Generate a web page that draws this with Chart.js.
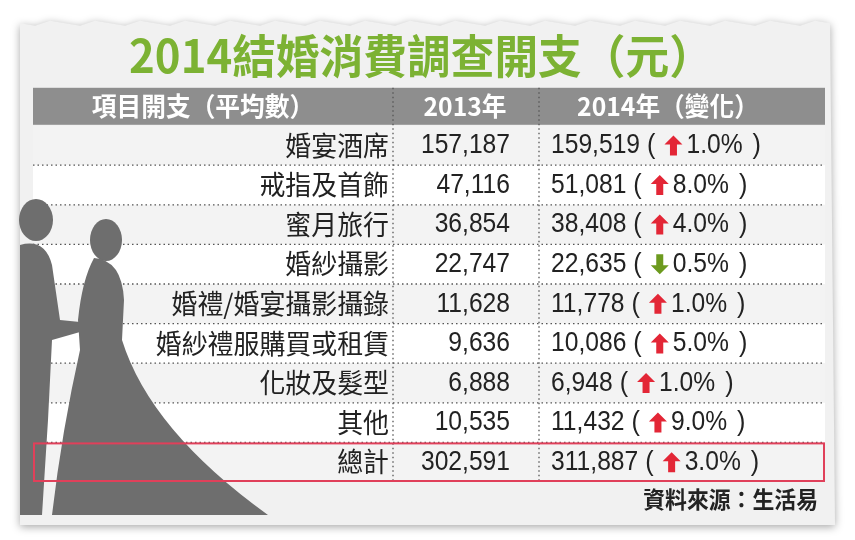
<!DOCTYPE html>
<html><head><meta charset="utf-8">
<script src="https://cdn.jsdelivr.net/npm/chart.js@4"></script>
<style>html,body{margin:0;background:#fff}#wrap{width:855px;height:540px}</style>
</head><body><div id="wrap"><canvas id="c"></canvas></div>
<script>
const title = "2014結婚消費調查開支（元）";
const headers = ["項目開支（平均數）", "2013年", "2014年（變化）"];
const categories = ["婚宴酒席","戒指及首飾","蜜月旅行","婚紗攝影","婚禮/婚宴攝影攝錄","婚紗禮服購買或租賃","化妝及髮型","其他","總計"];
const v2013 = [157187,47116,36854,22747,11628,9636,6888,10535,302591];
const v2014 = [159519,51081,38408,22635,11778,10086,6948,11432,311887];
const change = [1.0,8.0,4.0,-0.5,1.0,5.0,1.0,9.0,3.0];
const source = "資料來源：生活易";

const rows = ["header", ...categories];
const NUM = '"Liberation Sans",sans-serif';
const CJK = '"Noto Sans CJK TC",sans-serif';
const fmt = n => n.toLocaleString("en-US");

// draw horizontally squeezed text, returns drawn width
function txt(ctx, s, x, y, align, sx) {
  const w = ctx.measureText(s).width * sx;
  const left = align === "right" ? x - w : align === "center" ? x - w/2 : x;
  ctx.save(); ctx.textAlign = "left"; ctx.translate(left, y); ctx.scale(sx, 1);
  ctx.fillText(s, 0, 0); ctx.restore();
  return w;
}

function arrow(ctx, x, y, up, col) {
  ctx.save(); ctx.fillStyle = col; ctx.beginPath();
  const d = up ? -1 : 1;
  ctx.moveTo(x, y + d*10); ctx.lineTo(x+9, y + d*1); ctx.lineTo(x+3.5, y + d*1);
  ctx.lineTo(x+3.5, y - d*10); ctx.lineTo(x-3.5, y - d*10); ctx.lineTo(x-3.5, y + d*1);
  ctx.lineTo(x-9, y + d*1); ctx.closePath(); ctx.fill(); ctx.restore();
}

const tablePlugin = {
  id: "table",
  beforeDraw(chart) {
    const ctx = chart.ctx, ys = chart.scales.y;
    const step = Math.abs(ys.getPixelForValue(1) - ys.getPixelForValue(0));
    ctx.save();
    ctx.shadowColor = "rgba(0,0,0,0.35)"; ctx.shadowBlur = 8; ctx.shadowOffsetY = 2;
    ctx.fillStyle = "#f1f1f1";
    ctx.beginPath(); ctx.moveTo(20, 24);
    for (let x = 20; x <= 835; x += 15) ctx.lineTo(x, 20 + ((x/15)%3)*2.5);
    ctx.lineTo(835, 525); ctx.lineTo(20, 525); ctx.closePath(); ctx.fill();
    ctx.restore();
    ctx.save();
    rows.forEach((r, i) => {
      const yc = ys.getPixelForValue(i);
      if (i === 0) { ctx.fillStyle = "#8e8e8e"; ctx.fillRect(33, yc - 18, 792, 37); }
      else { ctx.fillStyle = i % 2 ? "#f3f3f3" : "#ffffff"; ctx.fillRect(33, yc - step/2, 792, step); }
    });
    ctx.restore();
  },
  afterDraw(chart) {
    const ctx = chart.ctx, ys = chart.scales.y;
    const step = Math.abs(ys.getPixelForValue(1) - ys.getPixelForValue(0));
    ctx.save();
    ctx.textBaseline = "middle";
    // title
    ctx.fillStyle = "#7cb233"; ctx.font = "bold 46px " + CJK;
    txt(ctx, title, 421, 56, "center", 0.95);
    // dotted lines
    ctx.strokeStyle = "#555"; ctx.lineWidth = 1.3; ctx.setLineDash([1.5, 3]);
    for (let i = 1; i < rows.length - 1; i++) {
      const yb = ys.getPixelForValue(i) + step/2;
      ctx.beginPath(); ctx.moveTo(33, yb); ctx.lineTo(825, yb); ctx.stroke();
    }
    const top = ys.getPixelForValue(0) - 18, bot = ys.getPixelForValue(rows.length-1) + step/2;
    [393, 539].forEach(x => { ctx.beginPath(); ctx.moveTo(x, top); ctx.lineTo(x, bot); ctx.stroke(); });
    ctx.setLineDash([]);
    // silhouette
    ctx.fillStyle = "#6e6e6e";
    ctx.beginPath(); ctx.ellipse(36, 220, 17, 21, 0, 0, Math.PI*2); ctx.fill();
    ctx.beginPath(); ctx.moveTo(20, 245); ctx.quadraticCurveTo(45, 238, 52, 265);
    ctx.lineTo(60, 320); ctx.lineTo(80, 322); ctx.lineTo(80, 332); ctx.lineTo(52, 340);
    ctx.lineTo(48, 420); ctx.lineTo(42, 515); ctx.lineTo(20, 515); ctx.closePath(); ctx.fill();
    ctx.beginPath(); ctx.ellipse(106, 240, 16, 21, 0, 0, Math.PI*2); ctx.fill();
    ctx.beginPath(); ctx.moveTo(94, 258); ctx.quadraticCurveTo(122, 260, 124, 300);
    ctx.lineTo(122, 340); ctx.quadraticCurveTo(150, 430, 268, 515);
    ctx.lineTo(52, 515); ctx.quadraticCurveTo(62, 430, 80, 350);
    ctx.lineTo(78, 320); ctx.quadraticCurveTo(82, 280, 94, 258); ctx.closePath(); ctx.fill();
    // header text
    const hy = ys.getPixelForValue(0);
    ctx.fillStyle = "#fff"; ctx.font = "bold 26px " + CJK;
    txt(ctx, headers[0], 203, hy, "center", 0.95);
    txt(ctx, headers[1], 465, hy, "center", 0.95);
    txt(ctx, headers[2], 668, hy, "center", 0.95);
    // rows
    categories.forEach((c, k) => {
      const y = ys.getPixelForValue(k + 1);
      ctx.fillStyle = "#222";
      ctx.font = "27px " + CJK; txt(ctx, c, 389, y, "right", 0.96);
      ctx.font = "28px " + NUM; txt(ctx, fmt(v2013[k]), 510, y, "right", 0.88);
      let x = 551;
      x += txt(ctx, fmt(v2014[k]), x, y, "left", 0.88) + 7;
      x += txt(ctx, "(", x, y, "left", 0.9);
      const up = change[k] >= 0;
      arrow(ctx, x + 18, y, up, up ? "#e32636" : "#6c9a1e");
      x += 31;
      x += txt(ctx, Math.abs(change[k]).toFixed(1) + "%", x, y, "left", 0.88) + 10;
      txt(ctx, ")", x, y, "left", 0.9);
    });
    // total box
    const ty = ys.getPixelForValue(rows.length - 1);
    ctx.strokeStyle = "#e0405a"; ctx.lineWidth = 2;
    ctx.strokeRect(34, ty - step/2 + 1, 790, step - 2);
    // source
    ctx.fillStyle = "#222"; ctx.font = "bold 23px " + CJK;
    txt(ctx, source, 818, 499, "right", 0.95);
    ctx.restore();
  }
};

new Chart(document.getElementById("c"), {
  type: "scatter",
  data: { datasets: [{ data: [] }] },
  options: {
    responsive: true, maintainAspectRatio: false, animation: false,
    layout: { padding: { top: 86, bottom: 58, left: 0, right: 0 } },
    plugins: { legend: { display: false }, tooltip: { enabled: false } },
    scales: {
      x: { type: "linear", min: 0, max: 855, display: false },
      y: { type: "category", labels: rows, offset: true, display: false }
    }
  },
  plugins: [tablePlugin]
});
</script></body></html>
